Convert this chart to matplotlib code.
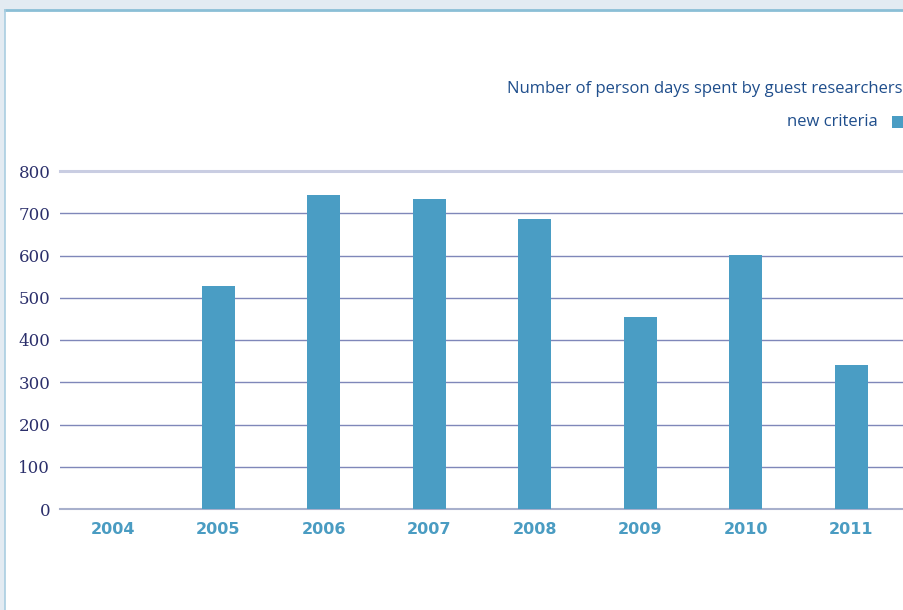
import matplotlib
matplotlib.use("Agg")
import numpy as np
from matplotlib import pyplot as plt
from matplotlib.patches import Rectangle

years = ["2004", "2005", "2006", "2007", "2008", "2009", "2010", "2011"]
person_days = [0, 528, 743, 734, 686, 454, 601, 341]
yticks = [0, 100, 200, 300, 400, 500, 600, 700, 800]

bar_color = "#4a9dc4"
grid_color = "#7f87b9"
navy = "#2b2f6b"

fig = plt.figure(figsize=(9.04, 6.10), dpi=100)
fig.patch.set_facecolor("#e3ebf2")

# white panel with blue frame on top/left
W, H = 904, 610
fig.patches.append(Rectangle((5 / W, 0), 1, (H - 10) / H, transform=fig.transFigure,
                             facecolor="white", edgecolor="none", zorder=-2))
fig.lines.append(plt.Line2D([5 / W, 1], [(H - 10) / H] * 2, transform=fig.transFigure,
                            color="#8bbfd6", lw=2, zorder=-1))
fig.lines.append(plt.Line2D([5 / W] * 2, [0, (H - 10) / H], transform=fig.transFigure,
                            color="#a9cde0", lw=1.2, zorder=-1))

ax = fig.add_axes([60 / W, (H - 509) / H, 1 - 60 / W, 338 / H])
ax.set_zorder(2)
ax.set_facecolor("none")
x = np.arange(len(years))
ax.bar(x, person_days, width=0.31, color=bar_color, zorder=3)

ax.set_xlim(-0.5, 7.5)
ax.set_ylim(0, 800)
for v in yticks[1:-1]:
    ax.axhline(v, color=grid_color, lw=1.0, zorder=1)
ax.axhline(800, color="#c9cde2", lw=2.2, zorder=1, clip_on=False)
ax.axhline(0, color="#a8b0cc", lw=1.5, zorder=2, clip_on=False)

for s in ax.spines.values():
    s.set_visible(False)
ax.set_yticks(yticks)
ax.set_yticklabels([str(v) for v in yticks], fontsize=12, color=navy,
                   family="DejaVu Serif")
ax.set_xticks(x)
ax.set_xticklabels(years, fontsize=11.5, color="#4a9cc2", fontweight="bold",
                   family="DejaVu Sans")
ax.tick_params(axis="both", length=0)
ax.tick_params(axis="y", pad=7)
ax.tick_params(axis="x", pad=9)

fig.text(507 / W, 1 - 89 / H, "Number of person days spent by guest researchers",
         fontsize=12, color="#1f4e8c", ha="left", va="center", family="Open Sans")
fig.text(878 / W, 1 - 122 / H, "new criteria", fontsize=12, color="#1f4e8c",
         ha="right", va="center", family="Open Sans")
fig.patches.append(Rectangle((892 / W, 1 - 128 / H), 14 / W, 12 / H,
                             transform=fig.transFigure, facecolor=bar_color,
                             edgecolor="none"))

fig.savefig("out.png", dpi=100)
